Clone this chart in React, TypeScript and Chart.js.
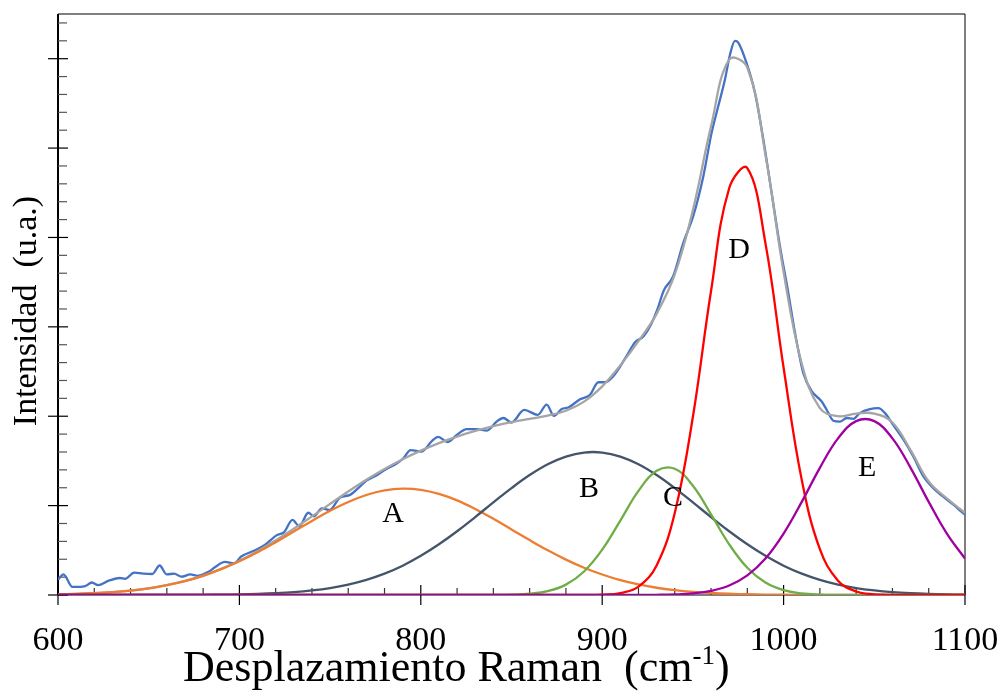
import React, { useEffect, useRef } from "react";
import { Chart, registerables } from "chart.js";

Chart.register(...registerables);

// Raman shift grid for the fitted curves (cm-1)
const compX = [
  600, 610, 620, 630, 640, 650, 660, 670, 680, 690, 700, 710, 720, 730, 740, 750, 760, 770, 780, 790,
  800, 810, 820, 830, 840, 850, 860, 870, 880, 890, 900, 910, 920, 930, 940, 950, 960, 970, 980, 990,
  1000, 1010, 1020, 1030, 1040, 1050, 1060, 1070, 1080, 1090, 1100,
];

// Component A (orange)
const compA = [
  0.0075, 0.0126, 0.0205, 0.0325, 0.05, 0.075, 0.11, 0.156, 0.215, 0.289, 0.377, 0.478, 0.591, 0.71, 0.829,
  0.942, 1.041, 1.119, 1.17, 1.19, 1.177, 1.132, 1.059, 0.963, 0.853, 0.734, 0.614, 0.5, 0.396, 0.305, 0.229,
  0.166, 0.118, 0.081, 0.0545, 0.0355, 0.0225, 0.0139, 0.0083, 0.0049, 0.0028, 0.0016, 0.0009, 0.0005, 0.0003,
  0.0002, 0.0001, 0, 0, 0, 0,
];

// Component B (dark slate)
const compB = [
  0, 0, 0, 0, 0.0001, 0.0003, 0.0006, 0.0011, 0.002, 0.0038, 0.0068, 0.0117, 0.0197, 0.032, 0.051, 0.078,
  0.117, 0.17, 0.239, 0.328, 0.438, 0.567, 0.713, 0.872, 1.036, 1.196, 1.342, 1.463, 1.549, 1.594, 1.594,
  1.549, 1.463, 1.342, 1.196, 1.036, 0.872, 0.713, 0.567, 0.438, 0.328, 0.239, 0.17, 0.117, 0.078, 0.051,
  0.032, 0.0197, 0.0117, 0.0068, 0.0038,
];

// Component C (green)
const compC = [
  0, 0, 0, 0, 0, 0, 0, 0, 0, 0, 0, 0, 0, 0, 0, 0, 0, 0, 0, 0, 0, 0, 0, 0.0002, 0.0009, 0.0038, 0.014, 0.044,
  0.116, 0.263, 0.507, 0.833, 1.165, 1.389, 1.412, 1.222, 0.902, 0.567, 0.304, 0.139, 0.054, 0.018, 0.005,
  0.0012, 0.0002, 0, 0, 0, 0, 0, 0,
];

// Component D (red)
const compD = [
  0, 0, 0, 0, 0, 0, 0, 0, 0, 0, 0, 0, 0, 0, 0, 0, 0, 0, 0, 0, 0, 0, 0, 0, 0, 0, 0, 0, 0, 0.0005, 0.0036, 0.021,
  0.0937, 0.331, 0.917, 1.994, 3.401, 4.551, 4.777, 3.934, 2.542, 1.288, 0.512, 0.16, 0.039, 0.0075, 0.0011,
  0, 0, 0, 0,
];

// Component E (purple)
const compE = [
  0, 0, 0, 0, 0, 0, 0, 0, 0, 0, 0, 0, 0, 0, 0, 0, 0, 0, 0, 0, 0, 0, 0, 0, 0, 0, 0, 0, 0, 0, 0, 0, 0.0005, 0.002,
  0.0064, 0.018, 0.0459, 0.1056, 0.2187, 0.408, 0.687, 1.0415, 1.423, 1.752, 1.945, 1.945, 1.752, 1.423,
  1.0415, 0.687, 0.408,
];

// Total fit (gray)
const fitY = [
  0.0075, 0.0126, 0.0205, 0.0325, 0.05, 0.075, 0.111, 0.157, 0.217, 0.293, 0.384, 0.49, 0.611, 0.742, 0.88,
  1.02, 1.158, 1.289, 1.409, 1.518, 1.615, 1.699, 1.772, 1.835, 1.89, 1.934, 1.97, 2.007, 2.061, 2.163, 2.334,
  2.569, 2.84, 3.145, 3.586, 4.306, 5.243, 5.99, 5.9, 4.924, 3.614, 2.588, 2.09, 2.0, 2.03, 2.03, 1.93, 1.62,
  1.27, 1.08, 0.92,
];

// Measured spectrum (blue)
const dataX = [
  600, 603, 608, 615, 618.6, 622, 628, 634, 637, 642, 647, 652, 656, 660, 664, 668, 673, 677, 683, 686.5, 692,
  697, 701, 708.6, 714, 720.6, 724.5, 729.3, 733, 738, 741, 745.4, 749.6, 755.5, 761, 765.5, 770, 775.7, 781,
  786.7, 790.4, 794.4, 800.5, 806, 809.6, 814.6, 819.8, 825.3, 830.8, 836.5, 841.8, 845.5, 850, 857, 864.5,
  869.4, 873.4, 877.7, 881.5, 887.8, 893.3, 897.9, 901.5, 906, 913.5, 918, 922.7, 927, 930.5, 934, 939, 944.7,
  950.2, 955.7, 960.3, 964, 967.7, 970.5, 973.2, 975, 979.6, 984.2, 988.8, 993.4, 998, 1002.6, 1005.7, 1008,
  1010.9, 1015.5, 1021, 1023.8, 1027.4, 1031, 1034.8, 1038.4, 1042, 1047.6, 1052.2, 1055.9, 1060.5, 1066,
  1071.5, 1077, 1082.5, 1088, 1093.6, 1099, 1100,
];
const dataY = [
  0.17, 0.23, 0.09, 0.1, 0.14, 0.11, 0.16, 0.19, 0.18, 0.25, 0.24, 0.235, 0.33, 0.23, 0.24, 0.205, 0.23, 0.215,
  0.26, 0.31, 0.37, 0.355, 0.43, 0.5, 0.56, 0.67, 0.7, 0.84, 0.77, 0.92, 0.88, 0.97, 0.95, 1.09, 1.12, 1.195,
  1.28, 1.34, 1.41, 1.47, 1.53, 1.62, 1.605, 1.72, 1.77, 1.71, 1.79, 1.855, 1.855, 1.84, 1.94, 1.98, 1.93, 2.07,
  2.016, 2.13, 2.004, 2.08, 2.1, 2.19, 2.24, 2.38, 2.38, 2.445, 2.676, 2.826, 2.893, 3.03, 3.2, 3.41, 3.56,
  3.94, 4.24, 4.68, 5.17, 5.47, 5.77, 6.05, 6.2, 6.18, 5.95, 5.62, 5.1, 4.5, 3.9, 3.38, 3.0, 2.75, 2.48, 2.28,
  2.165, 2.07, 1.95, 1.94, 1.98, 1.97, 2.035, 2.08, 2.09, 2.035, 1.9, 1.74, 1.55, 1.33, 1.195, 1.1, 1.01, 0.915,
  0.9,
];

// Peak labels
const labelNames = ["A", "B", "C", "D", "E"];
const labelX = [784.7, 892.7, 939, 975.4, 1046];
const labelY = [0.9, 1.18, 1.08, 3.86, 1.42];

// Axis ticks
const xTickValues = [600, 700, 800, 900, 1000, 1100];
const yMajorTicks = [0, 1, 2, 3, 4, 5, 6];

const FONT = "'Liberation Serif', 'Times New Roman', serif";

function zip(xs: number[], ys: number[]) {
  return xs.map((x, i) => ({ x, y: ys[i] }));
}

const framePlugin = {
  id: "frame",
  beforeDatasetsDraw(chart: any) {
    const { ctx, chartArea: a, scales } = chart;
    const xs = scales.x;
    const ys = scales.y;
    ctx.save();
    ctx.strokeStyle = "#7f7f7f";
    ctx.lineWidth = 2;
    ctx.beginPath();
    ctx.moveTo(a.right, a.top);
    ctx.lineTo(a.right, a.bottom);
    ctx.stroke();
    ctx.strokeStyle = "#000";
    ctx.lineWidth = 1.2;
    ctx.beginPath();
    ctx.moveTo(a.left, a.top);
    ctx.lineTo(a.right, a.top);
    ctx.stroke();
    ctx.beginPath();
    ctx.moveTo(a.left, a.bottom);
    ctx.lineTo(a.right, a.bottom);
    ctx.stroke();
    ctx.lineWidth = 2;
    ctx.beginPath();
    ctx.moveTo(a.left, a.top);
    ctx.lineTo(a.left, a.bottom);
    ctx.stroke();

    ctx.lineWidth = 1.2;
    for (let k = 0; k <= 32; k++) {
      const r = k / 5;
      const py = ys.getPixelForValue(r);
      const major = k % 5 === 0 && yMajorTicks.includes(r);
      ctx.strokeStyle = major ? "#000" : "#555";
      ctx.beginPath();
      if (major) {
        ctx.moveTo(a.left - 10, py);
        ctx.lineTo(a.left + 10, py);
      } else {
        ctx.moveTo(a.left, py);
        ctx.lineTo(a.left + 9, py);
      }
      ctx.stroke();
    }
    for (let v = 600; v <= 1100; v += 20) {
      const px = xs.getPixelForValue(v);
      const major = xTickValues.includes(v);
      ctx.strokeStyle = major ? "#000" : "#333";
      ctx.beginPath();
      if (major) {
        ctx.moveTo(px, a.bottom - 10);
        ctx.lineTo(px, a.bottom + 10);
      } else {
        ctx.moveTo(px, a.bottom - 7);
        ctx.lineTo(px, a.bottom);
      }
      ctx.stroke();
    }
    ctx.restore();
  },
  afterDatasetsDraw(chart: any) {
    const { ctx, scales } = chart;
    ctx.save();
    ctx.fillStyle = "#000";
    ctx.font = `30px ${FONT}`;
    ctx.textAlign = "center";
    ctx.textBaseline = "middle";
    labelNames.forEach((n, i) => {
      ctx.fillText(n, scales.x.getPixelForValue(labelX[i]), scales.y.getPixelForValue(labelY[i]));
    });
    ctx.save();
    ctx.font = `34px ${FONT}`;
    ctx.translate(27, 311);
    ctx.rotate(-Math.PI / 2);
    ctx.textAlign = "center";
    ctx.textBaseline = "middle";
    ctx.fillText("Intensidad  (u.a.)", 0, 0);
    ctx.restore();
    const main = "Desplazamiento Raman  (cm";
    const sup = "-1";
    const tail = ")";
    const big = `44px ${FONT}`;
    const small = `27px ${FONT}`;
    ctx.textAlign = "left";
    ctx.textBaseline = "alphabetic";
    ctx.font = big;
    const w1 = ctx.measureText(main).width;
    const x0 = 183;
    const base = 681;
    ctx.fillText(main, x0, base);
    ctx.font = small;
    const w2 = ctx.measureText(sup).width;
    ctx.fillText(sup, x0 + w1, base - 17);
    ctx.font = big;
    ctx.fillText(tail, x0 + w1 + w2, base);
    ctx.restore();
  },
};

export default function App() {
  const ref = useRef<HTMLCanvasElement | null>(null);
  useEffect(() => {
    if (!ref.current) return;
    const line = (label: string, xs: number[], ys: number[], color: string, order: number, mono = false) => ({
      label,
      data: zip(xs, ys),
      borderColor: color,
      backgroundColor: color,
      borderWidth: 2.3,
      pointRadius: 0,
      fill: false,
      tension: mono ? 0 : 0.4,
      cubicInterpolationMode: mono ? "monotone" : "default",
      order,
    });
    const chart = new Chart(ref.current, {
      type: "line",
      data: {
        datasets: [
          line("Experimental", dataX, dataY, "#4472C4", 6, true),
          line("Ajuste", compX, fitY, "#A5A5A5", 5),
          line("A", compX, compA, "#ED7D31", 4),
          line("B", compX, compB, "#44546A", 3),
          line("C", compX, compC, "#70AD47", 2),
          line("D", compX, compD, "#FF0000", 1),
          line("E", compX, compE, "#A0009F", 0),
        ] as any,
      },
      options: {
        animation: false,
        responsive: false,
        maintainAspectRatio: false,
        layout: { padding: { left: 0, right: 38, top: 14, bottom: 0 } },
        plugins: { legend: { display: false }, tooltip: { enabled: false } },
        scales: {
          x: {
            type: "linear",
            min: 600,
            max: 1100,
            grid: { display: false, drawTicks: false },
            border: { display: false },
            afterFit: (s: any) => {
              s.height = 96;
              s.paddingLeft = 0;
              s.paddingRight = 0;
            },
            afterBuildTicks: (s: any) => {
              s.ticks = xTickValues.map((v) => ({ value: v }));
            },
            ticks: {
              color: "#000",
              padding: 26,
              maxRotation: 0,
              autoSkip: false,
              font: { family: FONT, size: 34 },
              callback: (v: any) => String(v),
            },
          },
          y: {
            min: 0,
            max: 6.5,
            grid: { display: false, drawTicks: false },
            border: { display: false },
            ticks: { display: false },
            afterFit: (s: any) => {
              s.width = 58;
              s.paddingTop = 0;
              s.paddingBottom = 0;
            },
          },
        },
      },
      plugins: [framePlugin],
    });
    return () => chart.destroy();
  }, []);
  return (
    <div style={{ position: "absolute", left: 0, top: 0, width: 1003, height: 691, background: "#fff" }}>
      <canvas ref={ref} width={1003} height={691} style={{ display: "block" }} />
    </div>
  );
}
